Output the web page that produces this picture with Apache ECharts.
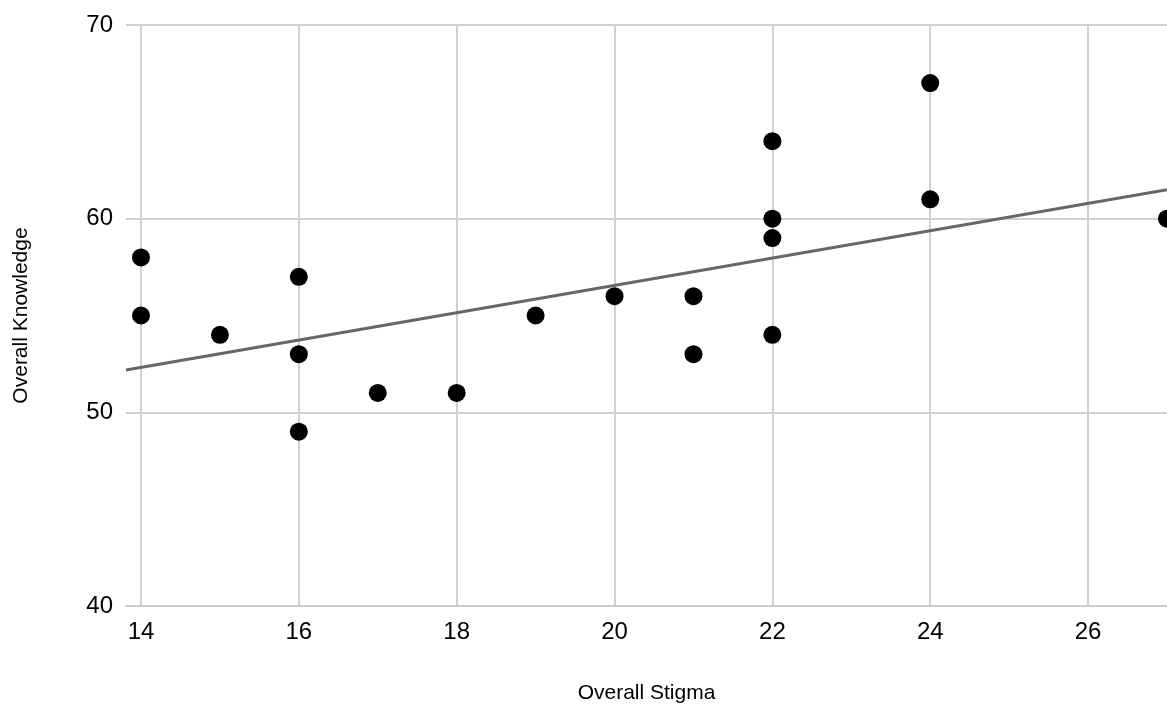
<!DOCTYPE html>
<html>
<head>
<meta charset="utf-8">
<script src="https://cdn.jsdelivr.net/npm/echarts@6/dist/echarts.min.js"></script>
<style>
html,body{margin:0;padding:0;background:#fff;}
#chart{width:1167px;height:706px;}
</style>
</head>
<body>
<div id="chart"></div>
<script>
// Data
const stigma    = [14, 14, 15, 16, 16, 16, 17, 18, 19, 20, 21, 21, 22, 22, 22, 22, 24, 24, 27];
const knowledge = [58, 55, 54, 57, 53, 49, 51, 51, 55, 56, 56, 53, 64, 60, 59, 54, 67, 61, 60];
const xTicks = [14, 16, 18, 20, 22, 24, 26];
const yTicks = [40, 50, 60, 70];
// Trendline (linear): value at x=14 and slope
const trendAt14 = 52.32;
const trendSlope = 0.706;

const xMin = 13.81, xMax = 27.0;
const points = stigma.map((x, i) => [x, knowledge[i]]);
const trend = [xMin, xMax].map(x => [x, trendAt14 + trendSlope * (x - 14)]);

const font = 'Liberation Sans, Arial, sans-serif';
const chart = echarts.init(document.getElementById('chart'), null, {renderer: 'canvas'});
chart.setOption({
  animation: false,
  backgroundColor: '#ffffff',
  grid: {left: 126, right: 0, top: 25, bottom: 100, containLabel: false, outerBoundsMode: 'none'},
  xAxis: {
    type: 'value', min: xMin, max: xMax,
    name: 'Overall Stigma', nameLocation: 'middle', nameGap: 77,
    nameTextStyle: {color: '#000', fontSize: 21, fontFamily: font},
    axisLine: {show: true, lineStyle: {color: '#cccccc', width: 2}},
    axisTick: {show: false, customValues: xTicks},
    axisLabel: {customValues: xTicks, color: '#000', fontSize: 24, fontFamily: font, margin: 14},
    splitLine: {show: true, lineStyle: {color: '#d0d0d0', width: 2}}
  },
  yAxis: {
    type: 'value', min: 40, max: 70, interval: 10,
    name: 'Overall Knowledge', nameLocation: 'middle', nameGap: 94, nameRotate: 90,
    nameTextStyle: {color: '#000', fontSize: 21, fontFamily: font},
    axisLine: {show: false}, axisTick: {show: false},
    axisLabel: {color: '#000', fontSize: 24, fontFamily: font, margin: 13},
    splitLine: {show: true, lineStyle: {color: '#d0d0d0', width: 2}}
  },
  series: [
    {
      type: 'line', data: trend, symbol: 'none', z: 3,
      lineStyle: {color: '#666666', width: 3}
    },
    {
      type: 'scatter', data: points, symbol: 'circle', symbolSize: 18, z: 4, clip: false,
      itemStyle: {color: '#000000', opacity: 1}
    }
  ]
});
</script>
</body>
</html>
